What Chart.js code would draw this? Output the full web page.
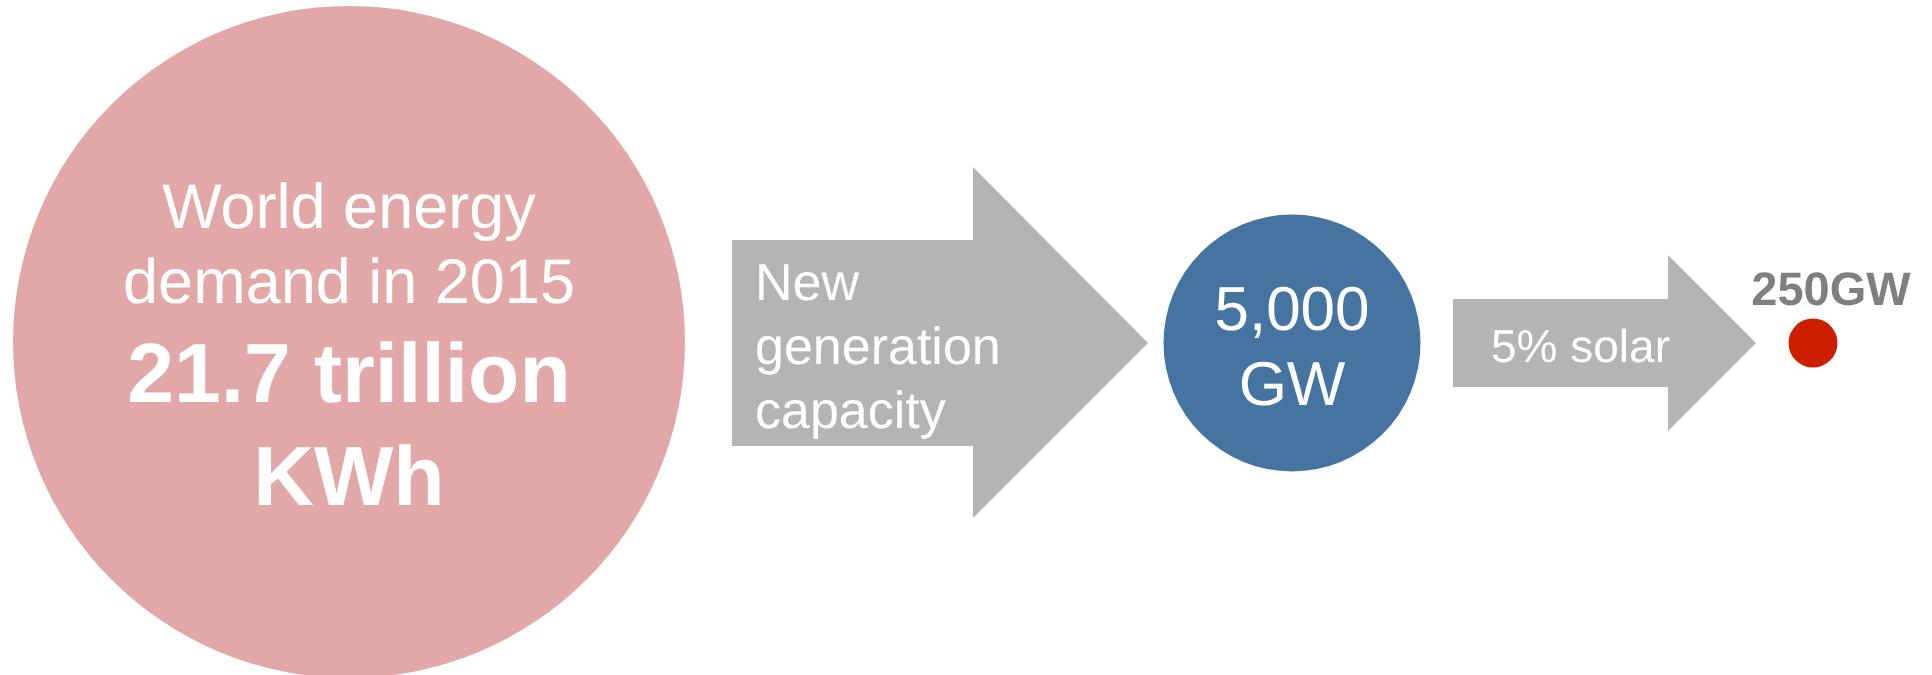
<!DOCTYPE html>
<html>
<head>
<meta charset="utf-8">
<title>World energy demand</title>
<script src="https://cdn.jsdelivr.net/npm/chart.js@4.4.1/dist/chart.umd.min.js"></script>
<style>
    html, body { margin: 0; padding: 0; background: #ffffff; }
    #wrap { width: 1932px; height: 675px; }
    canvas { text-rendering: geometricPrecision; }
</style>
</head>
<body>
<div id="wrap"><canvas id="chart" width="1932" height="675"></canvas></div>
<script>
// values
var stageNames  = ['World energy demand in 2015', 'New generation capacity', 'Solar'];
var stageValues = [21.7, 5000, 250];
var stageUnits  = ['trillion KWh', 'GW', 'GW'];
var solarShare  = [5]; // percent
var arrowLabels = ['New generation capacity', solarShare[0] + '% solar'];

// layout (page units = pixels, y from top)
var circleX = [349, 1292, 1813];
var circleY = [342, 343, 343];
var circleR = [336, 128.5, 24.5];
var circleColors = ['#e1a8a7', '#4674a1', '#cc1f00'];

var arrowBoxes = [
    { left: 732,  neck: 973,  tip: 1148, bodyTop: 240, bodyBottom: 446, headTop: 167, headBottom: 518, mid: 343 },
    { left: 1453, neck: 1668, tip: 1756, bodyTop: 299, bodyBottom: 387, headTop: 255, headBottom: 431, mid: 343 }
];
var arrowColor = '#b4b4b4';

function arrowPoints(b) {
    return [
        { x: b.left, y: b.bodyTop },
        { x: b.neck, y: b.bodyTop },
        { x: b.neck, y: b.headTop },
        { x: b.tip,  y: b.mid },
        { x: b.neck, y: b.headBottom },
        { x: b.neck, y: b.bodyBottom },
        { x: b.left, y: b.bodyBottom },
        { x: b.left, y: b.bodyTop }
    ];
}

var FONT = '"Liberation Sans", Arial, sans-serif';

// text blocks: lines with font, colour, alignment and baseline position
var textBlocks = [
    { x: circleX[0], align: 'center', color: '#ffffff', lines: [
        { text: 'World energy', y: 228, size: 63, weight: 'normal' },
        { text: 'demand in 2015', y: 303, size: 63, weight: 'normal' },
        { text: stageValues[0] + ' trillion', y: 402, size: 84, weight: 'bold' },
        { text: stageUnits[0].split(' ')[1], y: 505, size: 84, weight: 'bold' }
    ]},
    { x: 755, align: 'left', color: '#ffffff', lines: [
        { text: 'New', y: 300, size: 52, weight: 'normal' },
        { text: 'generation', y: 364, size: 52, weight: 'normal' },
        { text: 'capacity', y: 428, size: 52, weight: 'normal' }
    ]},
    { x: circleX[1], align: 'center', color: '#ffffff', lines: [
        { text: stageValues[1].toLocaleString('en-US'), y: 330, size: 62, weight: 'normal' },
        { text: stageUnits[1], y: 405, size: 62, weight: 'normal' }
    ]},
    { x: 1491, align: 'left', color: '#ffffff', lines: [
        { text: arrowLabels[1], y: 362, size: 46, weight: 'normal' }
    ]},
    { x: 1831, align: 'center', color: '#7f7f7f', lines: [
        { text: stageValues[2] + stageUnits[2], y: 305, size: 47, weight: 'bold' }
    ]}
];

var textPlugin = {
    id: 'infoText',
    afterDatasetsDraw: function(chart) {
        var ctx = chart.ctx;
        var xs = chart.scales.x, ys = chart.scales.y;
        ctx.save();
        ctx.textBaseline = 'alphabetic';
        if ('textRendering' in ctx) ctx.textRendering = 'geometricPrecision';
        for (var i = 0; i < textBlocks.length; i++) {
            var blk = textBlocks[i];
            ctx.fillStyle = blk.color;
            ctx.textAlign = blk.align;
            for (var j = 0; j < blk.lines.length; j++) {
                var ln = blk.lines[j];
                ctx.font = ln.weight + ' ' + ln.size + 'px ' + FONT;
                ctx.fillText(ln.text, xs.getPixelForValue(blk.x), ys.getPixelForValue(ln.y));
            }
        }
        ctx.restore();
    }
};

var datasets = [];

for (var k = 0; k < arrowBoxes.length; k++) {
    datasets.push({
        type: 'line',
        label: arrowLabels[k],
        data: arrowPoints(arrowBoxes[k]),
        backgroundColor: arrowColor,
        borderColor: arrowColor,
        borderWidth: 0,
        pointRadius: 0,
        tension: 0,
        fill: 'shape',
        order: 2
    });
}

datasets.push({
    type: 'bubble',
    label: 'stages',
    data: stageNames.map(function(name, i) {
        return { x: circleX[i], y: circleY[i], r: circleR[i] };
    }),
    backgroundColor: circleColors,
    borderWidth: 0,
    hoverBorderWidth: 0,
    order: 1
});

new Chart(document.getElementById('chart'), {
    type: 'bubble',
    data: { datasets: datasets },
    options: {
        responsive: false,
        animation: false,
        events: [],
        layout: { padding: 0, autoPadding: false },
        plugins: {
            legend: { display: false },
            tooltip: { enabled: false },
            title: { display: false }
        },
        scales: {
            x: { type: 'linear', min: 0, max: 1932, display: false },
            y: { type: 'linear', min: 0, max: 675, reverse: true, display: false }
        }
    },
    plugins: [textPlugin]
});
</script>
</body>
</html>
